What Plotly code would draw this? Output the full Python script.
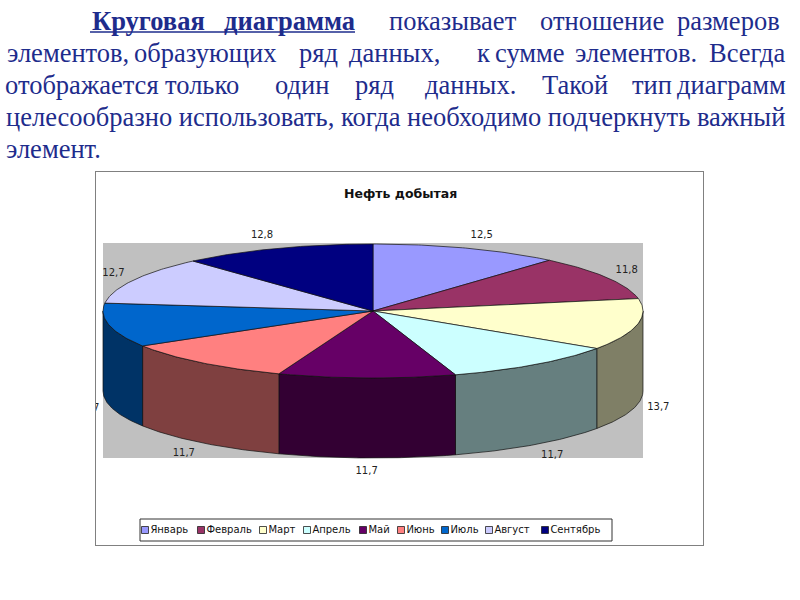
import numpy as np
import plotly.graph_objects as go

# chart data
months = ['Январь', 'Февраль', 'Март', 'Апрель', 'Май', 'Июнь', 'Июль', 'Август', 'Сентябрь']
values = [12.5, 11.8, 13.7, 11.7, 11.7, 11.7, 11.7, 12.7, 12.8]
colors = ['#9999FF', '#993366', '#FFFFCC', '#CCFFFF', '#660066',
          '#FF8080', '#0066CC', '#CCCCFF', '#000080']
title = 'Нефть добытая'

# slide text: justified lines as (word, left px); the last word is pushed to the line end
line1 = [('Круговая', 90), ('диаграмма', 222), ('показывает', 387),
         ('отношение', 538), ('размеров', 782)]
line2 = [('элементов,', 5), ('образующих', 132), ('ряд', 297), ('данных,', 347),
         ('к', 475), ('сумме', 493), ('элементов.', 573), ('Всегда', 788)]
line3 = [('отображается', 3), ('только', 163), ('один', 273), ('ряд', 353),
         ('данных.', 423), ('Такой', 540), ('тип', 630), ('диаграмм', 788)]
line4 = 'целесообразно использовать, когда необходимо подчеркнуть важный'
line5 = 'элемент.'

W, H = 800, 600
TXT = '#1E2C8C'
SERIF = 'Liberation Serif'
SANS = 'DejaVu Sans'

# 3d pie geometry (pixel units of the chart box)
CX, CY, RX, RY, DEPTH = 373, 311, 270, 67, 80


def dark(c):
    r, g, b = int(c[1:3], 16), int(c[3:5], 16), int(c[5:7], 16)
    return 'rgb(%d,%d,%d)' % (r // 2, g // 2, b // 2)


def arc(a0, a1, n=60):
    t = np.radians(np.linspace(a0, a1, n))
    return CX + RX * np.sin(t), CY - RY * np.cos(t)


def P(px, py):
    return px / W, 1 - py / H


total = sum(values)
edges = np.concatenate([[0], np.cumsum(values)]) / total * 360

fig = go.Figure()

# side walls (front half only)
for i, c in enumerate(colors):
    lo, hi = max(edges[i], 90), min(edges[i + 1], 270)
    if hi <= lo:
        continue
    xs, ys = arc(lo, hi)
    fig.add_trace(go.Scatter(x=np.concatenate([xs, xs[::-1], xs[:1]]),
                             y=np.concatenate([ys, ys[::-1] + DEPTH, ys[:1]]),
                             mode='lines', fill='toself', fillcolor=dark(c),
                             line=dict(color='#111111', width=0.7), hoverinfo='skip'))

# top faces
for i, c in enumerate(colors):
    xs, ys = arc(edges[i], edges[i + 1])
    fig.add_trace(go.Scatter(x=np.concatenate([[CX], xs, [CX]]),
                             y=np.concatenate([[CY], ys, [CY]]),
                             mode='lines', fill='toself', fillcolor=c,
                             line=dict(color='#111111', width=0.7),
                             name=months[i], hoverinfo='skip'))

# data labels
mid = np.radians((edges[:-1] + edges[1:]) / 2)
lx = CX + 280 * np.sin(mid)
ly = CY - 81 * np.cos(mid) + np.where(np.cos(mid) < 0, DEPTH, 0)
pos = ['middle right' if s > 0.2 else 'middle left' if s < -0.2 else 'middle center'
       for s in np.sin(mid)]
fig.add_trace(go.Scatter(x=lx, y=ly, mode='text',
                         text=[('%.1f' % v).replace('.', ',') for v in values],
                         textposition=pos, cliponaxis=True,
                         textfont=dict(family=SANS, size=10, color='#222222'),
                         hoverinfo='skip'))

# legend row: square + name, spaced by name length
LEG_X0, LEG_Y, CW, GAP = 145, 530, 6.0, 20
leg_x = LEG_X0 + np.concatenate([[0], np.cumsum([len(m) * CW + GAP for m in months[:-1]])])
fig.add_trace(go.Scatter(x=leg_x, y=[LEG_Y] * len(months), mode='markers+text',
                         text=months, textposition='middle right', cliponaxis=False,
                         marker=dict(symbol='square', size=7, color=colors,
                                     line=dict(color='#222222', width=0.8)),
                         textfont=dict(family=SANS, size=10, color='#111111'),
                         hoverinfo='skip'))

ann = []
for words, yc in [(line1, 21), (line2, 53), (line3, 85)]:
    for k, (w, x0) in enumerate(words):
        bold = words is line1 and k < 2
        last = k == len(words) - 1
        xx, yy = P(x0, yc)
        ann.append(dict(x=xx, y=yy, xref='paper', yref='paper', showarrow=False,
                        text='<b>%s</b>' % w if bold else w,
                        xanchor='right' if last else 'left', yanchor='middle',
                        font=dict(family=SERIF, size=26.5, color=TXT)))
for txt, yc in [(line4, 117), (line5, 149)]:
    xx, yy = P(4, yc)
    ann.append(dict(x=xx, y=yy, xref='paper', yref='paper', showarrow=False,
                    text=txt, xanchor='left', yanchor='middle',
                    font=dict(family=SERIF, size=26.5, color=TXT)))

# chart title
xx, yy = P(400, 194)
ann.append(dict(x=xx, y=yy, xref='paper', yref='paper', showarrow=False,
                xanchor='center', yanchor='middle',
                text='<b>%s</b>' % title, font=dict(family=SANS, size=12.5, color='#111111')))

ux0, uy = P(90, 32)
ux1, _ = P(355, 32)

fig.update_layout(
    width=W, height=H, margin=dict(l=0, r=0, t=0, b=0),
    paper_bgcolor='white', plot_bgcolor='white', showlegend=False,
    xaxis=dict(domain=[96 / W, 703 / W], range=[96, 703], visible=True,
               showgrid=False, zeroline=False, showticklabels=False, ticks='',
               showline=True, mirror=True, linecolor='#808080', linewidth=1,
               fixedrange=True),
    yaxis=dict(domain=[1 - 545 / H, 1 - 172 / H], range=[545, 172],
               showgrid=False, zeroline=False, showticklabels=False, ticks='',
               showline=True, mirror=True, linecolor='#808080', linewidth=1,
               fixedrange=True),
    shapes=[dict(type='rect', xref='x', yref='y', x0=103, x1=643, y0=243, y1=458,
                 fillcolor='#C0C0C0', line=dict(width=0), layer='below'),
            dict(type='rect', xref='x', yref='y', x0=140, x1=612, y0=519, y1=541,
                 fillcolor='white', line=dict(color='#333333', width=1), layer='below'),
            dict(type='line', xref='paper', yref='paper', x0=ux0, x1=ux1, y0=uy, y1=uy,
                 line=dict(color=TXT, width=1.5))],
    annotations=ann,
)

fig.write_html('out.html', config={'displayModeBar': False},
               post_script="document.body.style.margin='0';")
